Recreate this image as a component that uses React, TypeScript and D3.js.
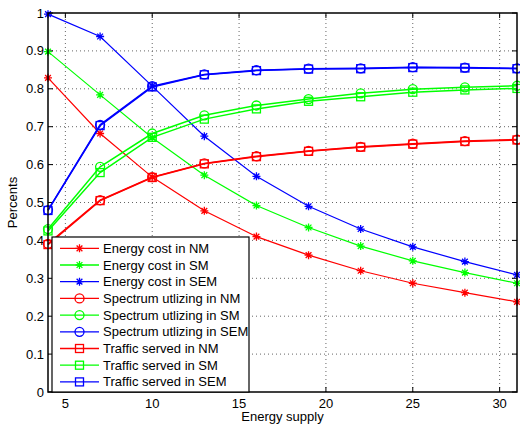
import React from 'react';
import * as d3 from 'd3';

const supply = [4, 7, 10, 13, 16, 19, 22, 25, 28, 31];

const energyNM = [0.829, 0.682, 0.567, 0.478, 0.41, 0.361, 0.32, 0.287, 0.262, 0.238];
const energySM = [0.898, 0.784, 0.671, 0.572, 0.492, 0.434, 0.385, 0.346, 0.315, 0.287];
const energySEM = [0.997, 0.938, 0.807, 0.675, 0.569, 0.49, 0.43, 0.383, 0.344, 0.309];
const spectrumNM = [0.391, 0.506, 0.567, 0.603, 0.622, 0.636, 0.647, 0.655, 0.662, 0.666];
const spectrumSM = [0.43, 0.594, 0.682, 0.73, 0.756, 0.773, 0.788, 0.799, 0.804, 0.808];
const spectrumSEM = [0.48, 0.705, 0.807, 0.838, 0.849, 0.853, 0.854, 0.857, 0.856, 0.854];
const trafficNM = [0.389, 0.505, 0.566, 0.602, 0.621, 0.635, 0.646, 0.654, 0.661, 0.665];
const trafficSM = [0.425, 0.579, 0.672, 0.72, 0.747, 0.767, 0.779, 0.791, 0.797, 0.801];
const trafficSEM = [0.479, 0.703, 0.805, 0.837, 0.848, 0.852, 0.853, 0.856, 0.855, 0.853];

const xTicks = [5, 10, 15, 20, 25, 30];
const yTicks = [0, 0.1, 0.2, 0.3, 0.4, 0.5, 0.6, 0.7, 0.8, 0.9, 1];

const series = [
  { name: 'Energy cost in NM', values: energyNM, color: '#ff0000', marker: 'star' },
  { name: 'Energy cost in SM', values: energySM, color: '#00ff00', marker: 'star' },
  { name: 'Energy cost in SEM', values: energySEM, color: '#0000ff', marker: 'star' },
  { name: 'Spectrum utlizing in NM', values: spectrumNM, color: '#ff0000', marker: 'circle' },
  { name: 'Spectrum utlizing in SM', values: spectrumSM, color: '#00ff00', marker: 'circle' },
  { name: 'Spectrum utlizing in SEM', values: spectrumSEM, color: '#0000ff', marker: 'circle' },
  { name: 'Traffic served in NM', values: trafficNM, color: '#ff0000', marker: 'square' },
  { name: 'Traffic served in SM', values: trafficSM, color: '#00ff00', marker: 'square' },
  { name: 'Traffic served in SEM', values: trafficSEM, color: '#0000ff', marker: 'square' },
];

const W = 520;
const H = 426;
const margin = { top: 13, right: 3, bottom: 34, left: 48 };
const font = 'Liberation Sans, Arial, Helvetica, sans-serif';

const Marker = ({ kind, x, y, color }: { kind: string; x: number; y: number; color: string }) => {
  if (kind === 'circle') {
    return <circle cx={x} cy={y} r={4.5} fill="none" stroke={color} strokeWidth={1.3} />;
  }
  if (kind === 'square') {
    return <rect x={x - 4} y={y - 4} width={8} height={8} fill="none" stroke={color} strokeWidth={1.3} />;
  }
  const r = 4;
  const d = r * 0.72;
  return (
    <path
      d={`M${x - r},${y}H${x + r}M${x},${y - r}V${y + r}M${x - d},${y - d}L${x + d},${y + d}M${x - d},${y + d}L${x + d},${y - d}`}
      stroke={color}
      strokeWidth={1.3}
      fill="none"
    />
  );
};

const App = () => {
  const x = d3.scaleLinear().domain([4, 31]).range([margin.left, W - margin.right]);
  const y = d3.scaleLinear().domain([0, 1]).range([H - margin.bottom, margin.top]);
  const x0 = x.range()[0];
  const x1 = x.range()[1];
  const y0 = y.range()[0];
  const y1 = y.range()[1];

  const line = d3
    .line<number>()
    .x((_, i) => x(supply[i]))
    .y(d => y(d));

  const legend = { x: 52, y: 237, w: 197, h: 155, row: 16.7 };

  return (
    <svg width={W} height={H} style={{ position: 'absolute', left: 0, top: 0 }} fontFamily={font}>
      <rect x={0} y={0} width={W} height={H} fill="#fff" />
      {/* grid */}
      {xTicks.map(t => (
        <line key={'gx' + t} x1={x(t)} x2={x(t)} y1={y0} y2={y1} stroke="#666" strokeWidth={1} strokeDasharray="1,3" />
      ))}
      {yTicks.slice(1, -1).map(t => (
        <line key={'gy' + t} x1={x0} x2={x1} y1={y(t)} y2={y(t)} stroke="#666" strokeWidth={1} strokeDasharray="1,3" />
      ))}

      {/* ticks */}
      {xTicks.map(t => (
        <g key={'tx' + t}>
          <line x1={x(t)} x2={x(t)} y1={y0} y2={y0 - 5} stroke="#000" />
          <line x1={x(t)} x2={x(t)} y1={y1} y2={y1 + 5} stroke="#000" />
          <text x={x(t)} y={y0 + 16} textAnchor="middle" fontSize={13}>
            {t}
          </text>
        </g>
      ))}
      {yTicks.map(t => (
        <g key={'ty' + t}>
          <line x1={x0} x2={x0 + 5} y1={y(t)} y2={y(t)} stroke="#000" />
          <line x1={x1} x2={x1 - 5} y1={y(t)} y2={y(t)} stroke="#000" />
          <text x={x0 - 4} y={y(t) + 4.5} textAnchor="end" fontSize={13}>
            {t}
          </text>
        </g>
      ))}

      {/* series */}
      {series.map(s => (
        <g key={s.name}>
          <path d={line(s.values) || ''} fill="none" stroke={s.color} strokeWidth={s.marker === 'star' ? 1.2 : 1.5} />
          {s.values.map((v, i) => (
            <Marker key={i} kind={s.marker} x={x(supply[i])} y={y(v)} color={s.color} />
          ))}
        </g>
      ))}

      {/* axes box */}
      <rect x={x0} y={y1} width={x1 - x0} height={y0 - y1} fill="none" stroke="#000" strokeWidth={1.5} />

      {/* legend */}
      <rect x={legend.x} y={legend.y} width={legend.w} height={legend.h} fill="#fff" stroke="#000" strokeWidth={1.2} />
      {series.map((s, i) => {
        const ly = legend.y + 11.3 + i * legend.row;
        return (
          <g key={'lg' + s.name}>
            <line x1={legend.x + 8} x2={legend.x + 47} y1={ly} y2={ly} stroke={s.color} strokeWidth={1.3} />
            <Marker kind={s.marker} x={legend.x + 27.5} y={ly} color={s.color} />
            <text x={legend.x + 51} y={ly + 4.5} fontSize={13}>
              {s.name}
            </text>
          </g>
        );
      })}

      {/* labels */}
      <text x={(x0 + x1) / 2} y={H - 5} textAnchor="middle" fontSize={13}>
        Energy supply
      </text>
      <text transform={`translate(17,${(y0 + y1) / 2}) rotate(-90)`} textAnchor="middle" fontSize={13}>
        Percents
      </text>
    </svg>
  );
};

export default App;
